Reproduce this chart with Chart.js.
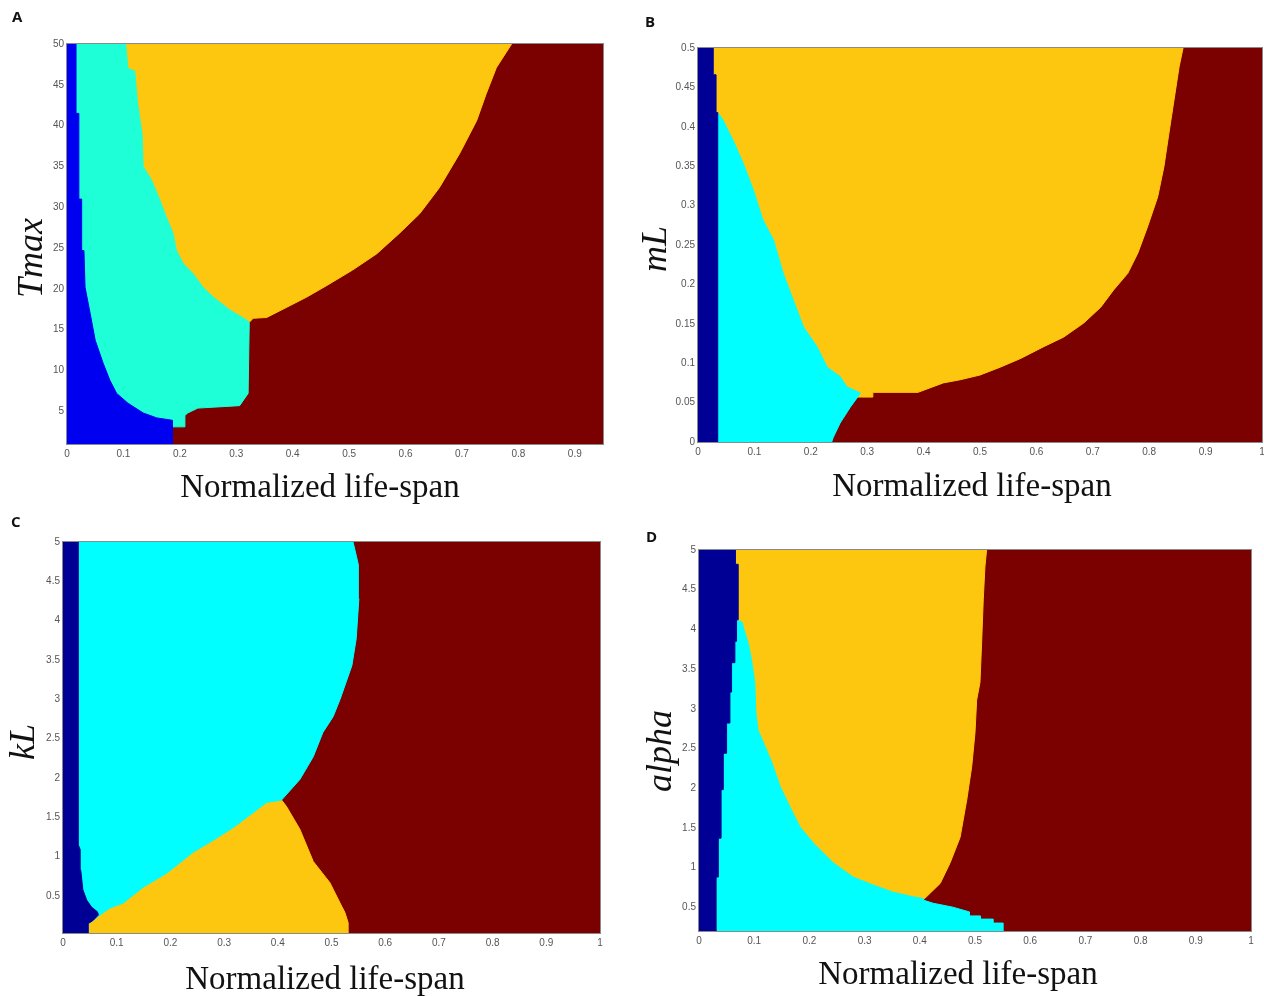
<!DOCTYPE html>
<html>
<head>
<meta charset="utf-8">
<title>Normalized life-span maps</title>
<script src="https://cdn.jsdelivr.net/npm/chart.js@4.4.1/dist/chart.umd.min.js"></script>
<style>
  body { margin: 0; background: #fff; }
  #fig { position: relative; width: 1264px; height: 996px; overflow: hidden; background: #fff; }
  #fig canvas { position: absolute; }
  .tag { position: absolute; font: 700 15px "Open Sans", "Liberation Sans", sans-serif; line-height: 15px; color: #111; }
  .xlab { position: absolute; width: 420px; text-align: center; font: 33px "Liberation Serif", "DejaVu Serif", serif; line-height: 33px; color: #111; white-space: nowrap; }
  .ylab { position: absolute; font: italic 36px "Liberation Serif", "DejaVu Serif", serif; line-height: 36px; color: #111; white-space: nowrap; transform: translate(-50%, -50%) rotate(-90deg); }
</style>
</head>
<body>
<div id="fig">
  <canvas id="chartA" width="640" height="470" style="left:0;top:0"></canvas>
  <canvas id="chartB" width="624" height="470" style="left:640px;top:0"></canvas>
  <canvas id="chartC" width="640" height="470" style="left:0;top:500px"></canvas>
  <canvas id="chartD" width="624" height="470" style="left:640px;top:500px"></canvas>

  <div class="tag" style="left:12px;top:9px">A</div>
  <div class="tag" style="left:645px;top:14px">B</div>
  <div class="tag" style="left:11px;top:514px">C</div>
  <div class="tag" style="left:646px;top:529px">D</div>

  <div class="ylab" style="left:30px;top:258px">Tmax</div>
  <div class="ylab" style="left:654px;top:249px">mL</div>
  <div class="ylab" style="left:22px;top:742px">kL</div>
  <div class="ylab" style="left:659px;top:751px">alpha</div>

  <div class="xlab" style="left:110px;top:470px">Normalized life-span</div>
  <div class="xlab" style="left:762px;top:469px">Normalized life-span</div>
  <div class="xlab" style="left:115px;top:962px">Normalized life-span</div>
  <div class="xlab" style="left:748px;top:957px">Normalized life-span</div>
</div>

<script>
// ============================================================
// DATA  (each edge = [parameter value, normalized life-span])
// ============================================================

// --- A : Tmax ---
const aXRange = [0, 0.95];
const aYRange = [1, 50];
const aBlue = [[1,0.187],[3.9,0.187],[4.2,0.159],[4.8,0.135],[6,0.108],[7.2,0.088],[8.8,0.076],[10.9,0.064],[13.7,0.05],[17,0.041],[20.2,0.032],[24.7,0.03],[24.7,0.026],[31,0.026],[31,0.021],[41.5,0.021],[41.5,0.016],[50,0.016]];
const aCyan = [[1,0.187],[3.1,0.187],[3.1,0.209],[4.5,0.209],[4.8,0.214],[5.4,0.232],[5.7,0.306],[7.2,0.321],[15.9,0.323],[16.2,0.318],[17.4,0.289],[19,0.259],[20.2,0.241],[21.9,0.223],[23.1,0.206],[24.7,0.194],[26.8,0.188],[28.8,0.176],[30.8,0.165],[33.3,0.15],[35,0.135],[39,0.133],[42.8,0.125],[46.7,0.12],[47,0.108],[50,0.104]];
const aYellow = [[15.9,0.323],[16.4,0.33],[16.5,0.354],[17.7,0.388],[19,0.425],[20.4,0.46],[22.3,0.506],[24.3,0.549],[26.8,0.589],[29.2,0.625],[32.4,0.66],[36.6,0.696],[40.6,0.726],[43.9,0.743],[47.1,0.761],[50,0.788]];

// --- B : mL ---
const bXRange = [0, 1];
const bYRange = [0, 0.5];
const bBlue = [[0,0.035],[0.418,0.035],[0.418,0.032],[0.466,0.032],[0.466,0.027],[0.5,0.027]];
const bCyan = [[0,0.237],[0.006,0.24],[0.024,0.252],[0.044,0.27],[0.062,0.288],[0.07,0.264],[0.083,0.252],[0.095,0.229],[0.121,0.211],[0.146,0.187],[0.18,0.169],[0.214,0.151],[0.256,0.134],[0.282,0.115],[0.32,0.098],[0.354,0.08],[0.383,0.062],[0.409,0.044],[0.418,0.035]];
const bYellow = [[0.057,0.29],[0.057,0.31],[0.063,0.31],[0.063,0.39],[0.075,0.435],[0.079,0.465],[0.085,0.5],[0.095,0.536],[0.106,0.572],[0.121,0.613],[0.133,0.648],[0.151,0.684],[0.171,0.714],[0.193,0.737],[0.214,0.762],[0.24,0.78],[0.273,0.797],[0.311,0.815],[0.349,0.826],[0.392,0.835],[0.434,0.844],[0.476,0.853],[0.5,0.86]];

// --- C : kL ---
const cXRange = [0, 1];
const cYRange = [0.03, 5];
const cBlue = [[0.03,0.047],[0.15,0.047],[0.19,0.056],[0.26,0.066],[0.3,0.064],[0.36,0.053],[0.45,0.044],[0.58,0.037],[0.83,0.033],[1.09,0.032],[1.15,0.0285],[5,0.0285]];
const cCyan = [[0.03,0.047],[0.15,0.047],[0.19,0.056],[0.26,0.069],[0.35,0.088],[0.41,0.112],[0.61,0.149],[0.79,0.193],[1.06,0.243],[1.21,0.28],[1.37,0.317],[1.56,0.354],[1.69,0.379],[1.72,0.407],[1.98,0.441],[2.27,0.466],[2.58,0.484],[2.78,0.503],[3,0.516],[3.43,0.538],[3.77,0.546],[4.28,0.551],[4.71,0.55],[4.89,0.544],[5,0.54]];
const cYellow = [[0.03,0.531],[0.16,0.531],[0.29,0.525],[0.41,0.516],[0.67,0.497],[0.94,0.466],[1.35,0.441],[1.64,0.416],[1.72,0.407]];

// --- D : alpha ---
const dXRange = [0, 1];
const dYRange = [0.2, 5];
const dBlue = [[0.2,0.031],[0.88,0.031],[0.88,0.035],[1.37,0.035],[1.37,0.04],[1.98,0.04],[1.98,0.044],[2.44,0.044],[2.44,0.05],[2.82,0.05],[2.82,0.056],[3.21,0.056],[3.21,0.059],[3.58,0.059],[3.58,0.065],[3.85,0.065],[3.85,0.068],[4.12,0.068],[4.12,0.071],[4.82,0.071],[4.82,0.066],[5,0.066]];
const dCyan = [[0.2,0.551],[0.3,0.551],[0.3,0.533],[0.35,0.533],[0.35,0.51],[0.39,0.51],[0.39,0.49],[0.44,0.49],[0.5,0.46],[0.55,0.424],[0.59,0.406],[0.61,0.406],[0.63,0.388],[0.69,0.351],[0.78,0.315],[0.88,0.279],[1.06,0.243],[1.31,0.207],[1.51,0.183],[1.76,0.165],[2.02,0.147],[2.32,0.132],[2.52,0.12],[2.73,0.107],[2.95,0.103],[3.33,0.101],[3.62,0.095],[3.83,0.089],[3.96,0.083],[4.09,0.078],[4.12,0.068]];
const dYellow = [[0.59,0.406],[0.8,0.437],[1.06,0.455],[1.38,0.473],[1.85,0.485],[2.27,0.494],[2.7,0.5],[3.11,0.503],[3.33,0.509],[3.83,0.512],[4.38,0.515],[4.79,0.518],[5,0.521]];


// ============================================================
// COLOURS / FONTS
// ============================================================

const RED = "#7b0000";
const YELLOW = "#fdc60f";
const TICK_FONT = { family: '"Liberation Sans Narrow", "Liberation Sans", sans-serif', size: 10 };

// MATLAB style tick text: 0.5 not 0.50, 5 not 5.0
const tickText = (v) => String(Number(v.toFixed(3)));


// ============================================================
// HELPERS
// ============================================================

// region left of an edge: closed polygon from x = 0 to the edge
function region(edge, color) {
  const pts = [{ x: 0, y: edge[0][0] }];
  edge.forEach(([y, x]) => pts.push({ x, y }));
  pts.push({ x: 0, y: edge[edge.length - 1][0] });
  return {
    data: pts,
    backgroundColor: color,
    borderColor: color,
    borderWidth: 1,
    fill: "shape",
    pointRadius: 0,
    tension: 0
  };
}

function background(xr, yr) {
  return region([[yr[0], xr[1]], [yr[1], xr[1]]], RED);
}

const framePlugin = {
  id: "frame",
  afterDraw(chart) {
    const { ctx, chartArea: a } = chart;
    ctx.save();
    ctx.strokeStyle = "#8a8a8a";
    ctx.lineWidth = 1;
    ctx.strokeRect(a.left - 0.5, a.top - 0.5, a.right - a.left + 1, a.bottom - a.top + 1);
    ctx.restore();
  }
};


// ============================================================
// PANEL BUILDER
// ============================================================

function makePanel(id, cfg) {

  const ctx = document.getElementById(id).getContext("2d");

  new Chart(ctx, {
    type: "line",
    data: {
      datasets: [
        region(cfg.blue, cfg.blueColor),
        region(cfg.cyan, cfg.cyanColor),
        region(cfg.yellow, YELLOW),
        background(cfg.xr, cfg.yr)
      ]
    },
    options: {
      responsive: false,
      animation: false,
      events: [],
      layout: { padding: { top: cfg.top, right: cfg.right, bottom: 0, left: 0 } },
      plugins: { legend: { display: false }, tooltip: { enabled: false } },
      scales: {
        x: {
          type: "linear",
          min: cfg.xr[0],
          max: cfg.xr[1],
          grid: { display: false, drawTicks: false },
          border: { display: false },
          ticks: {
            stepSize: 0.1, includeBounds: false, autoSkip: false, maxRotation: 0,
            padding: 4, color: "#555", font: TICK_FONT, callback: tickText
          },
          afterFit: (s) => { s.height = cfg.xh; s.paddingLeft = 0; s.paddingRight = 0; }
        },
        y: {
          type: "linear",
          min: cfg.yr[0],
          max: cfg.yr[1],
          grid: { display: false, drawTicks: false },
          border: { display: false },
          ticks: {
            stepSize: cfg.step, includeBounds: false, autoSkip: false,
            padding: 3, color: "#555", font: TICK_FONT, callback: tickText
          },
          afterFit: (s) => { s.width = cfg.yw; s.paddingTop = 0; s.paddingBottom = 0; }
        }
      }
    },
    plugins: [framePlugin]
  });
}


// ============================================================
// DRAW
// ============================================================

makePanel("chartA", {
  blue: aBlue, cyan: aCyan, yellow: aYellow, xr: aXRange, yr: aYRange, step: 5,
  blueColor: "#0000f0", cyanColor: "#1effd8",
  top: 44, right: 37, yw: 67, xh: 26
});

makePanel("chartB", {
  blue: bBlue, cyan: bCyan, yellow: bYellow, xr: bXRange, yr: bYRange, step: 0.05,
  blueColor: "#000094", cyanColor: "#00ffff",
  top: 48, right: 2, yw: 58, xh: 28
});

makePanel("chartC", {
  blue: cBlue, cyan: cCyan, yellow: cYellow, xr: cXRange, yr: cYRange, step: 0.5,
  blueColor: "#000094", cyanColor: "#00ffff",
  top: 42, right: 40, yw: 63, xh: 37
});

makePanel("chartD", {
  blue: dBlue, cyan: dCyan, yellow: dYellow, xr: dXRange, yr: dYRange, step: 0.5,
  blueColor: "#000094", cyanColor: "#00ffff",
  top: 50, right: 13, yw: 59, xh: 39
});
</script>
</body>
</html>
